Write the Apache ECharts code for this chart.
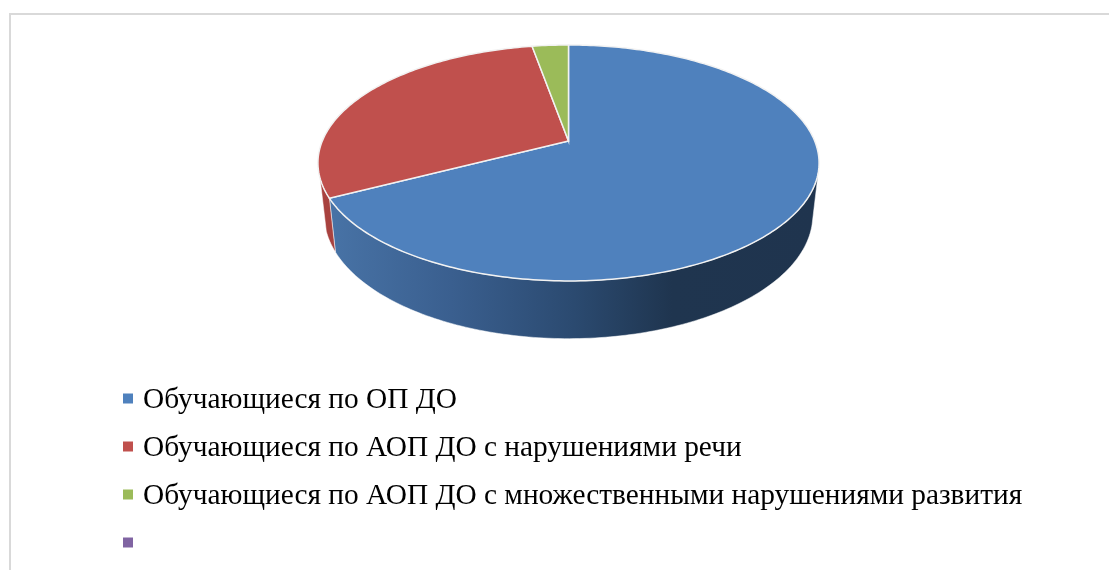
<!DOCTYPE html>
<html>
<head>
<meta charset="utf-8">
<style>html,body{margin:0;padding:0;background:#fff}#chart{width:1109px;height:570px}</style>
<script src="https://cdn.jsdelivr.net/npm/echarts@6/dist/echarts.min.js"></script>
</head>
<body>
<div id="chart"></div>
<script>
// shares of the pie (the 4th legend entry has no name and no slice)
const categories = ['Обучающиеся по ОП ДО', 'Обучающиеся по АОП ДО с нарушениями речи', 'Обучающиеся по АОП ДО с множественными нарушениями развития', ' '];
const values = [67.4, 29.8, 2.8, 0];
const colors = ['#4f81bd', '#c0504d', '#9bbb59', '#8064a2'];

const total = values.reduce((a, b) => a + b, 0);
const cx = 568.5, cy = 141;       // where the slices meet
const a = 246.2, b = 113.9;       // disc radii before perspective
const k = -0.186;                 // perspective
const depth = 51, sx = 0.975, sy = 1.048;  // lower rim relative to the upper one
const wallFrom = 105, wallTo = 252;        // part of the side that faces the viewer

function rim(deg, lower) {
    const t = deg * Math.PI / 180;
    const u = Math.sin(t), v = -Math.cos(t);
    const d = 1 + k * v;
    const x = a * u / d, y = b * v / d;
    return lower ? [cx + sx * x, cy + depth + sy * y] : [cx + x, cy + y];
}

function arc(from, to, lower) {
    const pts = [];
    const n = Math.max(2, Math.ceil(Math.abs(to - from)));
    for (let i = 0; i <= n; i++) pts.push(rim(from + (to - from) * i / n, lower));
    return pts;
}

function startAngle(idx) {
    let s = 0;
    for (let i = 0; i < idx; i++) s += values[i];
    return s / total * 360;
}

// side walls are drawn first so that the top always lies over them
function wallItem(idx) {
    const from = Math.max(startAngle(idx), wallFrom);
    const to = Math.min(startAngle(idx) + values[idx] / total * 360, wallTo);
    if (to <= from) return null;
    const points = arc(from, to, false).concat(arc(to, from, true));
    const fill = idx === 0
        ? new echarts.graphic.LinearGradient(0, 0, 1, 0, [
            { offset: 0, color: '#4873a6' },
            { offset: 0.25, color: '#3a5f8f' },
            { offset: 0.5, color: '#2b4a70' },
            { offset: 0.7, color: '#1f354f' },
            { offset: 1, color: '#1f344e' }
        ])
        : '#a8423f';
    return {
        type: 'polygon',
        z2: 1,
        shape: { points: points },
        style: { fill: fill, stroke: 'rgba(255,255,255,0.5)', lineWidth: 1 }
    };
}

function topItem(idx) {
    const from = startAngle(idx);
    const to = from + values[idx] / total * 360;
    if (to <= from) return null;
    return {
        type: 'polygon',
        z2: 2,
        shape: { points: [[cx, cy]].concat(arc(from, to, false)) },
        style: { fill: colors[idx], stroke: '#f2f2f2', lineWidth: 1.5 }
    };
}

const chart = echarts.init(document.getElementById('chart'), null, { renderer: 'canvas' });
chart.setOption({
    animation: false,
    color: colors,
    legend: {
        orient: 'vertical',
        left: 118,
        top: 377,
        padding: 5,
        icon: 'rect',
        itemWidth: 10,
        itemHeight: 10,
        itemGap: 15,
        data: categories,
        selectedMode: false,
        formatter: '{t|{name}}',
        textStyle: {
            rich: {
                t: {
                    fontFamily: '"Liberation Serif"',
                    fontSize: 29.35,
                    lineHeight: 30,
                    padding: [4, 0, 0, 5],
                    color: '#000'
                }
            }
        }
    },
    graphic: [
        { type: 'rect', shape: { x: 9, y: 13, width: 2, height: 557 }, style: { fill: '#d9d9d9' } },
        { type: 'rect', shape: { x: 9, y: 13, width: 1100, height: 2 }, style: { fill: '#d9d9d9' } }
    ],
    series: categories.map((name, idx) => ({
        type: 'custom',
        name: name,
        coordinateSystem: 'none',
        data: [values[idx]],
        itemStyle: { color: colors[idx] },
        renderItem: function () {
            const children = [wallItem(idx), topItem(idx)].filter(Boolean);
            return { type: 'group', children: children };
        }
    }))
});
</script>
</body>
</html>
